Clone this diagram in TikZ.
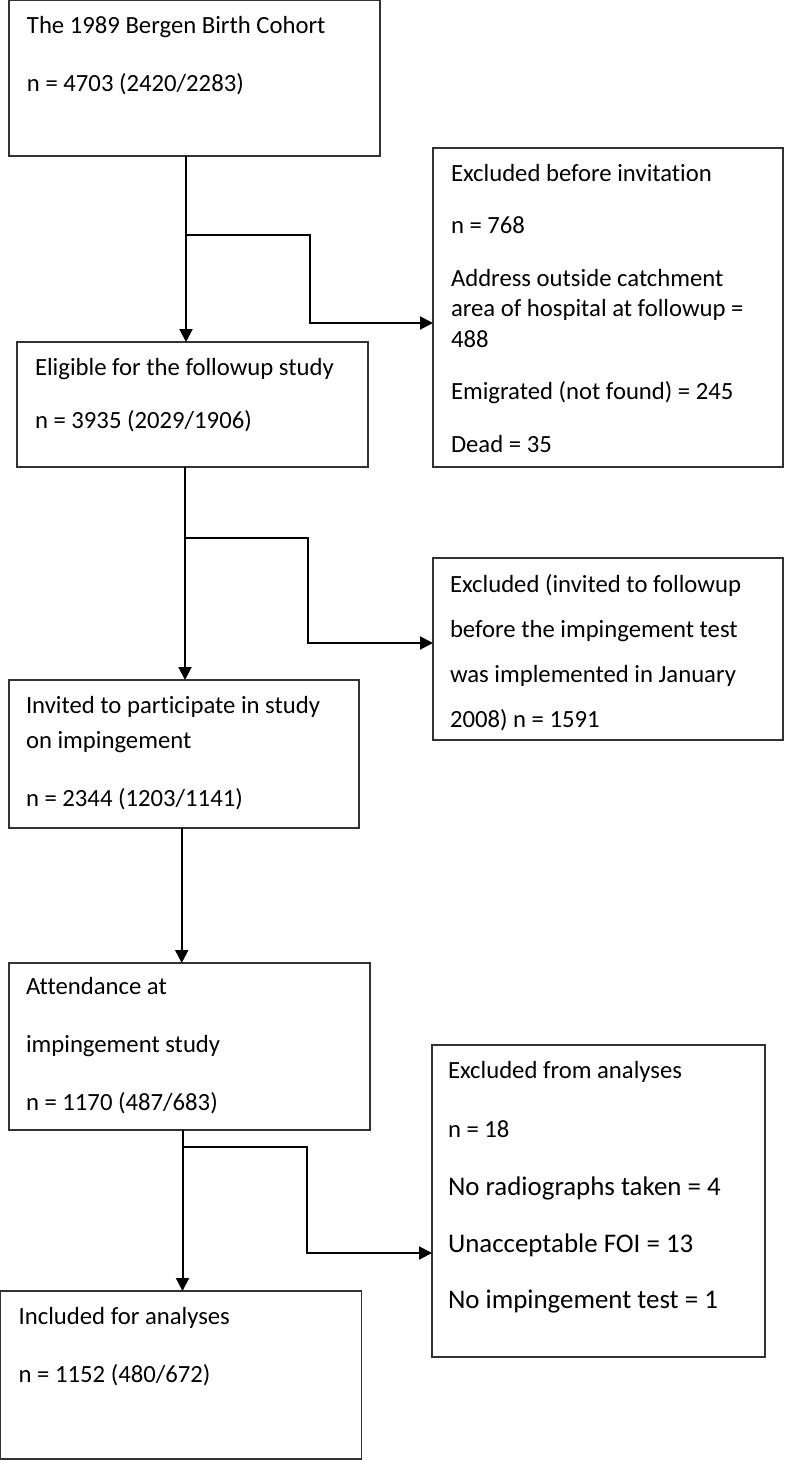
\documentclass[tikz,border=0pt]{standalone}
\usepackage{fontspec}
\setmainfont{Carlito}[Ligatures={NoCommon}]
\usetikzlibrary{arrows.meta, positioning}

\newcommand{\boxfont}{\fontsize{24.7pt}{30.5pt}\selectfont}
\newcommand{\bigboxfont}{\fontsize{26.9pt}{30.5pt}\selectfont}

\begin{document}
\begin{tikzpicture}[
    x=1pt, y=-1pt,
    flowbox/.style={rectangle, draw=black!80, line width=1.2pt, anchor=north west, inner ysep=0pt, inner xsep=18pt, outer sep=0pt, align=flush left, font=\boxfont, text height=33pt},
    arrow/.style={-{Triangle[width=13pt,length=13pt]}, line width=2pt}
]
\useasboundingbox (0,0) rectangle (786,1460);

\node[flowbox, text width=335pt, text depth=123pt] (cohort) at (9,0) {The 1989 Bergen Birth Cohort\\[27.5pt]n = 4703 (2420/2283)};
\node[flowbox, text width=314pt, text depth=286pt] (exclinv) at (433,148) {Excluded before invitation\\[22pt]n = 768\\[22pt]Address outside catchment\\area of hospital at followup =\\488\\[22pt]Emigrated (not found) = 245\\[22pt]Dead = 35};
\node[flowbox, text width=315pt, text depth=92pt] (eligible) at (17,342) {Eligible for the followup study\\[22.5pt]n = 3935 (2029/1906)};
\node[flowbox, inner xsep=17pt, text width=316pt, text height=34pt, text depth=148pt] (exclearly) at (433,558) {Excluded (invited to followup\\[14.5pt]before the impingement test\\[14.5pt]was implemented in January\\[14.5pt]2008) n = 1591};
\node[flowbox, inner xsep=17pt, text width=316pt, text depth=115pt] (invited) at (9,680) {Invited to participate in study\\[4.5pt]on impingement\\[27.5pt]n = 2344 (1203/1141)};
\node[flowbox, inner xsep=17pt, text width=327pt, text height=31.5pt, text depth=135.5pt] (attend) at (9,963) {Attendance at\\[27.5pt]impingement study\\[27.5pt]n = 1170 (487/683)};
\node[flowbox, inner xsep=16pt, text width=301pt, text depth=279pt] (exclanal) at (432,1045) {Excluded from analyses\\[28.5pt]n = 18\\[27.5pt]\bigboxfont No radiographs taken = 4\\[26.5pt]Unacceptable FOI = 13\\[25.5pt]No impingement test = 1};
\node[flowbox, text width=325pt, text depth=135pt] (included) at (0.7,1291) {Included for analyses\\[27.5pt]n = 1152 (480/672)};

\coordinate (fork1) at (186,235);
\coordinate (bend1) at (310,323);
\coordinate (fork2) at (185,538);
\coordinate (bend2) at (308,643);
\coordinate (spine3) at (181.7,900);
\coordinate (fork4) at (182.5,1147);
\coordinate (bend4) at (307,1253);

\draw[arrow] (fork1 |- cohort.south) -- (fork1 |- eligible.north);
\draw[arrow] (fork1) -| (bend1) -- (bend1 -| exclinv.west);
\draw[arrow] (fork2 |- eligible.south) -- (fork2 |- invited.north);
\draw[arrow] (fork2) -| (bend2) -- (bend2 -| exclearly.west);
\draw[arrow] (spine3 |- invited.south) -- (spine3 |- attend.north);
\draw[arrow] (fork4 |- attend.south) -- (fork4 |- included.north);
\draw[arrow] (fork4) -| (bend4) -- (bend4 -| exclanal.west);

\end{tikzpicture}
\end{document}
